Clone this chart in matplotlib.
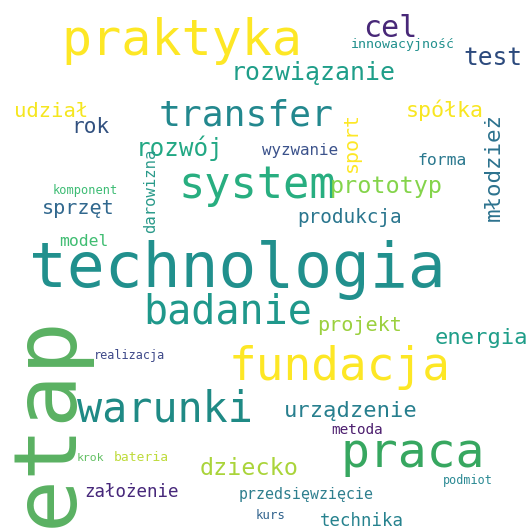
import matplotlib
matplotlib.use("Agg")
import matplotlib.pyplot as plt

# Word cloud data: words and their weights (larger weight -> larger font)
words = ["etap", "technologia", "praktyka", "praca", "fundacja", "system",
         "warunki", "badanie", "transfer", "cel", "rozwiązanie", "test",
         "rozwój", "prototyp", "dziecko", "młodzież", "urządzenie", "energia",
         "spółka", "rok", "udział", "sprzęt", "projekt", "sport", "produkcja",
         "założenie", "technika", "model", "forma", "wyzwanie", "darowizna",
         "przedsięwzięcie", "metoda", "innowacyjność", "bateria", "kurs",
         "komponent", "realizacja", "podmiot", "krok"]
weights = [88, 63, 50, 48, 46, 43.6, 41.8, 40, 36.2, 30, 24.9, 24.5,
           24.3, 23.4, 23.4, 22.5, 22.1, 22.1, 21.7, 21.1, 20.5, 20.2, 20.2,
           20, 19.4, 17.5, 17.4, 16.4, 16.4, 15.9, 15.6,
           14.9, 14.4, 13.3, 13, 12.4, 12, 11.9, 11.8, 11.5]

# Layout of the cloud (pixel coords: x = centre of word, y = baseline)
layout = {
    "etap": (72, 421, 90), "technologia": (237.5, 287, 0), "praktyka": (181.5, 55, 0),
    "praca": (412.5, 467, 0), "fundacja": (339.5, 380, 0), "system": (257.5, 198, 0),
    "warunki": (165, 422, 0), "badanie": (228, 324, 0), "transfer": (246.5, 125, 0),
    "cel": (390, 37, 0), "rozwiązanie": (313.5, 80, 0), "test": (492.5, 65, 0),
    "rozwój": (180, 156, 0), "prototyp": (386.5, 193, 0), "dziecko": (249.5, 475, 0),
    "młodzież": (500, 167, 90), "urządzenie": (351, 417, 0), "energia": (481, 344, 0),
    "spółka": (444.5, 117, 0), "rok": (90.5, 133, 0), "udział": (51.5, 117, 0),
    "sprzęt": (78, 214, 0), "projekt": (360, 331, 0), "sport": (357, 142, 90),
    "produkcja": (350, 223, 0), "założenie": (132, 497, 0), "technika": (361.5, 526, 0),
    "model": (83.5, 246, 0), "forma": (442.5, 165, 0), "wyzwanie": (300, 155, 0),
    "darowizna": (155, 191, 90), "przedsięwzięcie": (306, 499, 0), "metoda": (357, 434, 0),
    "innowacyjność": (403, 48, 0), "bateria": (141.5, 461, 0), "kurs": (271, 519, 0),
    "komponent": (85.5, 194, 0), "realizacja": (130, 359, 0), "podmiot": (468, 484, 0),
    "krok": (90, 461, 0),
}

colors = {
    "etap": "#5ab162", "technologia": "#21908d", "praktyka": "#fde725",
    "praca": "#37a760", "fundacja": "#fde725", "system": "#28ae80",
    "warunki": "#1f8a85", "badanie": "#1f988b", "transfer": "#23888e",
    "cel": "#482878", "rozwiązanie": "#1f9e89", "test": "#2c4a7d",
    "rozwój": "#22a884", "prototyp": "#84d44b", "dziecko": "#aad43a",
    "młodzież": "#2c728e", "urządzenie": "#277f8e", "energia": "#1f9e89",
    "spółka": "#f8e621", "rok": "#31507f", "udział": "#f5e61f",
    "sprzęt": "#31688e", "projekt": "#9bd03e", "sport": "#fde725",
    "produkcja": "#2a768e", "założenie": "#46277a", "technika": "#26828e",
    "model": "#40bd72", "forma": "#2a788e", "wyzwanie": "#3b528b",
    "darowizna": "#2a9a8a", "przedsięwzięcie": "#2e7f8e", "metoda": "#4d1f6f",
    "innowacyjność": "#21908d", "bateria": "#bedb3b", "kurs": "#32648e",
    "komponent": "#3dbc74", "realizacja": "#3e4989", "podmiot": "#2b8a94",
    "krok": "#63c064",
}

W, H, DPI = 528, 529, 100
fig = plt.figure(figsize=(W / DPI, H / DPI), dpi=DPI, facecolor="white")
ax = fig.add_axes([0, 0, 1, 1])
ax.set_xlim(0, W)
ax.set_ylim(H, 0)
ax.axis("off")

px_to_pt = 72 / DPI
for word, w in zip(words, weights):
    x, y, rot = layout[word]
    ax.text(x, y, word, fontsize=w * px_to_pt, color=colors[word],
            family="DejaVu Sans Mono", rotation=rot, rotation_mode="anchor",
            ha="center", va="baseline")

fig.savefig("out.png", dpi=DPI, facecolor="white")
